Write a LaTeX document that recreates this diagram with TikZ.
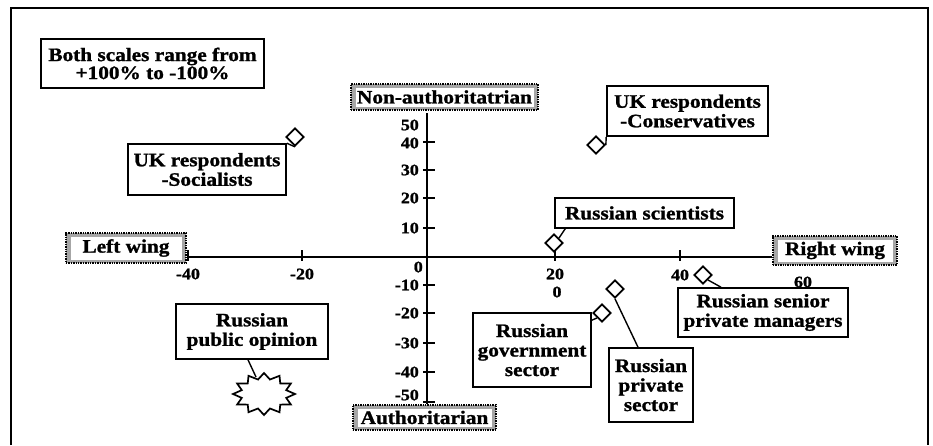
\documentclass[tikz,border=0pt]{standalone}
\usepackage{fontspec}
\setmainfont{Liberation Serif}[FakeStretch=1.12, BoldFeatures={FakeBold=1.2}]
\usetikzlibrary{shapes.geometric,patterns}
\newcommand{\lab}{\fontsize{19}{19.5}\selectfont\bfseries}
\newcommand{\tck}{\fontsize{16}{16}\selectfont\bfseries}
\begin{document}
\begin{tikzpicture}[x=1pt,y=-1pt,
  bx/.style={draw, line width=1.6, fill=white, align=center, inner sep=0, font=\lab},
  stip/.style={draw, densely dotted, line width=1.4, fill=black!35,
    inner sep=0, align=center, font=\lab,
    path picture={\fill[white] ([shift={(4.5pt,3.5pt)}]path picture bounding box.south west) rectangle ([shift={(-4.5pt,-3.5pt)}]path picture bounding box.north east);}},
  dia/.style={draw, diamond, line width=1.7, minimum width=18, minimum height=18, inner sep=0, fill=white},
  ax/.style={line width=1.9},
  tl/.style={font=\tck, inner sep=0},
  conn/.style={line width=1.4}]
\useasboundingbox (0,0) rectangle (933,445);
% frame
\draw[line width=1.5] (11,445) -- (11,8) -- (928,8) -- (928,445);

% axis boxes
\node[stip, minimum width=120, minimum height=30] (leftw) at (126,248) {Left wing};
\node[stip, minimum width=124, minimum height=29] (rightw) at (835,250.5) {Right wing};
\node[stip, minimum width=187, minimum height=26] (nonauth) at (444.5,97) {Non-authoritatrian};
\node[stip, minimum width=143, minimum height=25] (auth) at (424.5,417.5) {Authoritarian};

% axes
\coordinate (xL) at (188,257);
\coordinate (yT) at (427,113);
\draw[ax] (xL) -- (xL -| rightw.west);
\draw[ax] (yT) -- (yT |- auth.north);
\foreach \x in {188,302,555,680} \draw[ax] (\x,250) -- (\x,261);
\foreach \y in {142,170,198,228,285,313,343,372,402} \draw[ax] (423,\y) -- (435,\y);

% tick labels
\foreach \v/\y [count=\i] in {50/125,40/143,30/170,20/198,10/228,-10/285,-20/313,-30/343,-40/372,-50/395}
  \node[tl, anchor=east] (yl\i) at (419,\y) {\v};
\node[tl, anchor=east] (yl0) at (423,267) {0};
\node[tl] (xl1) at (188,274) {-40};
\node[tl] (xl2) at (302,274) {-20};
\node[tl] (xl3) at (555,274) {20};
\node[tl] (xl4) at (557,292) {0};
\node[tl] (xl5) at (680,275) {40};
\node[tl] (xl6) at (803,282) {60};

% note
\node[bx, minimum width=223, minimum height=49, font=\fontsize{19}{18}\selectfont\bfseries] (both) at (152.5,63.5) {Both scales range from\\+100\% to -100\%};

% data boxes
\node[bx, minimum width=158, minimum height=51] (soc) at (207,169.5) {UK respondents\\-Socialists};
\node[bx, minimum width=161, minimum height=50] (cons) at (687.5,111) {UK respondents\\-Conservatives};
\node[bx, minimum width=179, minimum height=30] (sci) at (644.5,213) {Russian scientists};
\node[bx, minimum width=152, minimum height=55] (pub) at (252,331.5) {Russian\\public opinion};
\node[bx, minimum width=118, minimum height=74] (gov) at (532,350) {Russian\\government\\sector};
\node[bx, minimum width=84, minimum height=74] (priv) at (651,385) {Russian\\private\\sector};
\node[bx, minimum width=170, minimum height=49] (sen) at (763,312.5) {Russian senior\\private managers};

% data points
\node[dia] (dSoc) at (295,137) {};
\node[dia] (dCons) at (596,145) {};
\node[dia] (dSci) at (554,243) {};
\node[dia] (dGov) at (602,313) {};
\node[dia] (dPriv) at (615,289) {};
\node[dia] (dSen) at (703,275) {};

% starburst
\coordinate (sb) at (264,394);
\coordinate (sbtop) at (256,377);
\begin{scope}[shift={(264,394)}]
\draw[line width=1.7] (0:31 and 21) \foreach \a in {15,45,...,345}{ -- (\a:23 and 15) -- (\a+15:31 and 21)} -- cycle;
\end{scope}

% connectors
\draw[conn] (dSoc.south) -- (soc.north east);
\draw[conn] (dCons.east) -- (cons.south west);
\draw[conn] (dSci.north east) -- ([xshift=11pt]sci.south west);
\draw[conn] (dGov.south west) -- ([yshift=-8pt]gov.north east);
\draw[conn] (dPriv.south) -- ([xshift=-13pt]priv.north);
\draw[conn] (dSen.south east) -- ([xshift=-42pt]sen.north);
\draw[conn] ([xshift=-4pt]pub.south) -- (sbtop);
\end{tikzpicture}
\end{document}
